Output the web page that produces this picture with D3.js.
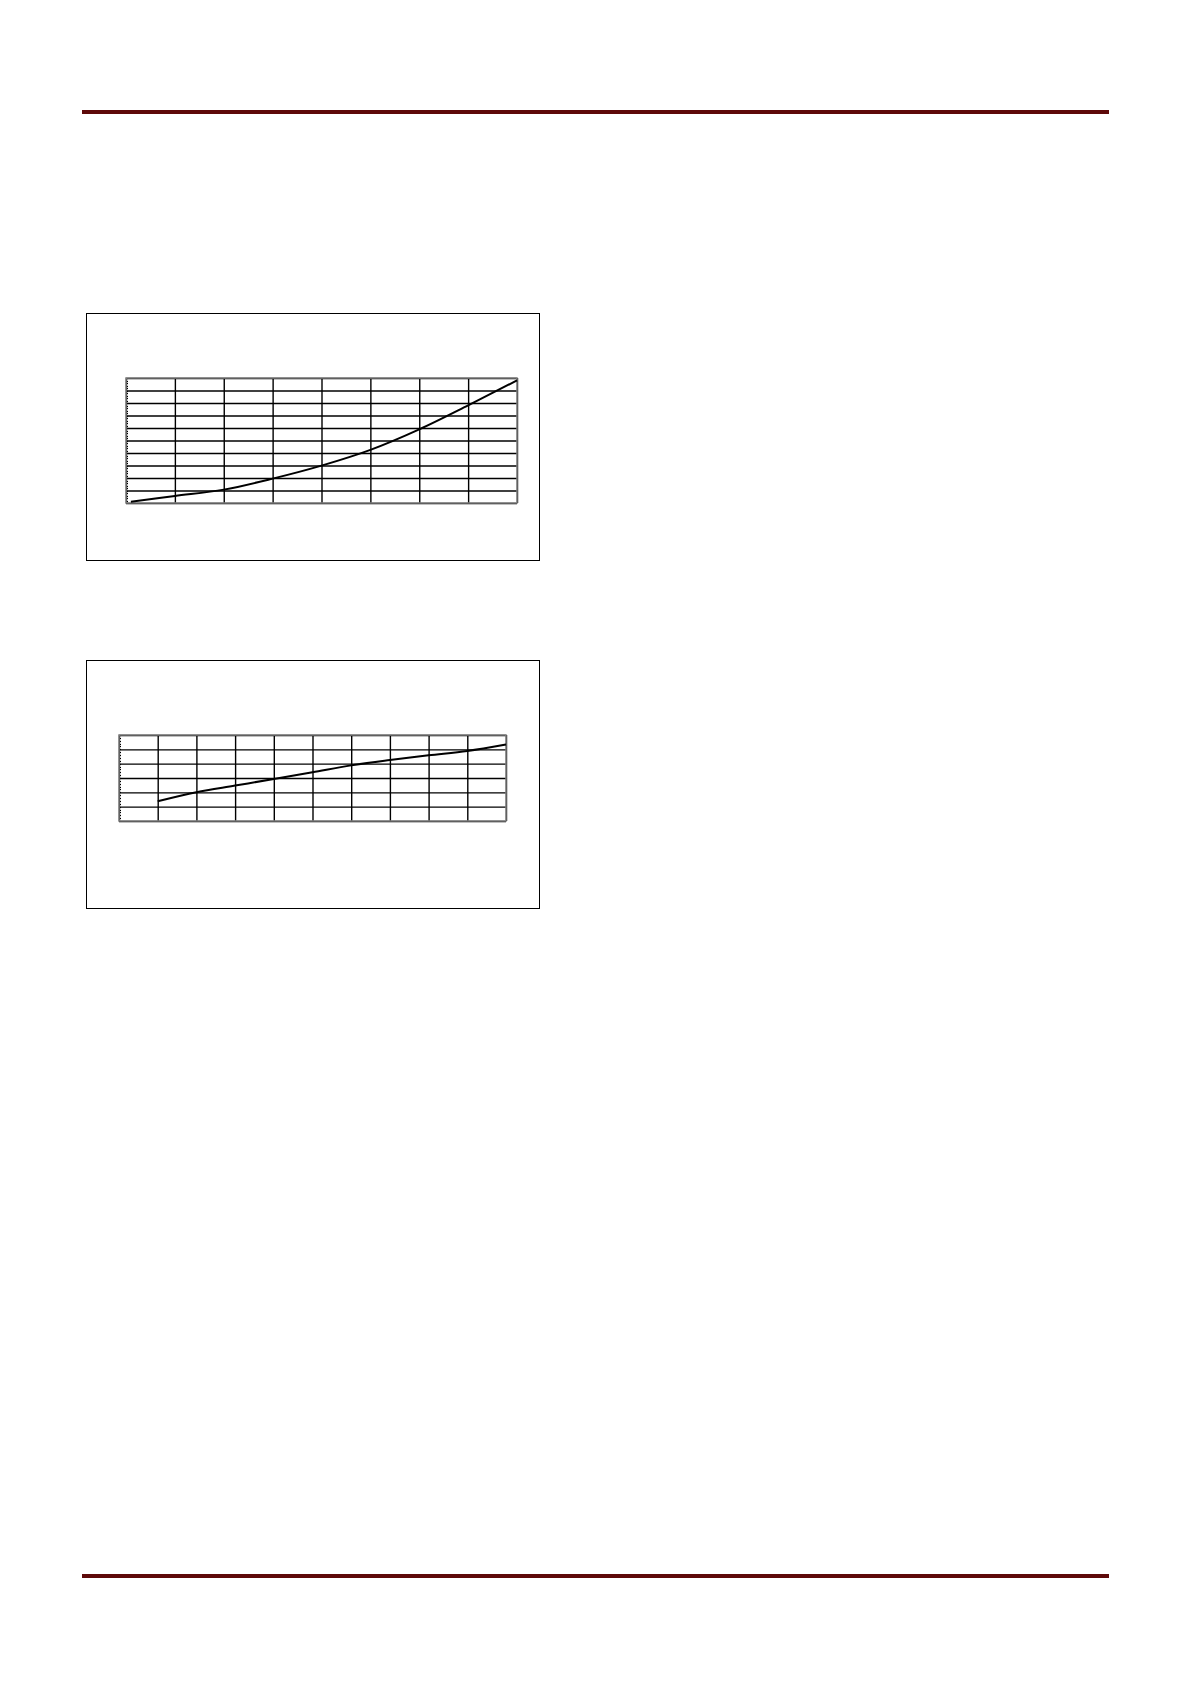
<!DOCTYPE html>
<html>
<head>
<meta charset="utf-8">
<script src="https://cdn.jsdelivr.net/npm/d3@7"></script>
<style>
  body { margin: 0; background: #fff; }
  .grid line { stroke: #000; stroke-width: 1.4; }
  .grid path { display: none; }
  .minor line { stroke: #000; stroke-width: 1; shape-rendering: crispEdges; }
  .minor path { display: none; }
</style>
</head>
<body>
<svg id="page" width="1191" height="1684"></svg>
<script>
// chart 1 : rising curve, 8 x intervals, 10 y intervals
var c1X = [0.1, 1, 2, 3, 4, 5, 6, 7, 8];
var c1Y = [0.1, 0.56, 1.07, 1.95, 2.99, 4.25, 5.89, 7.81, 9.81];
var c1XTicks = [0, 1, 2, 3, 4, 5, 6, 7, 8];
var c1YTicks = [0, 1, 2, 3, 4, 5, 6, 7, 8, 9, 10];

// chart 2 : near linear, 10 x intervals, 6 y intervals
var c2X = [1, 2, 3, 4, 5, 6, 7, 8, 9, 10];
var c2Y = [1.38, 2.01, 2.47, 2.93, 3.40, 3.88, 4.25, 4.58, 4.88, 5.33];
var c2XTicks = [0, 1, 2, 3, 4, 5, 6, 7, 8, 9, 10];
var c2YTicks = [0, 1, 2, 3, 4, 5, 6];

var svg = d3.select("#page");

// page rules
[112, 1576].forEach(function(y){
  svg.append("line")
    .attr("x1", 82).attr("x2", 1109)
    .attr("y1", y).attr("y2", y)
    .attr("stroke", "#5e0909")
    .attr("stroke-width", 4);
});

function drawChart(box, plot, xs, ys, xTicks, yTicks, minorStep){
  // outer frame
  svg.append("rect")
    .attr("x", box.x + 0.5).attr("y", box.y + 0.5)
    .attr("width", box.w).attr("height", box.h)
    .attr("fill", "#fff").attr("stroke", "#000").attr("stroke-width", 1);

  var g = svg.append("g").attr("transform", "translate(" + plot.x + "," + plot.y + ")");

  var x = d3.scaleLinear()
      .domain([xTicks[0], xTicks[xTicks.length - 1]])
      .range([0, plot.w]);
  var y = d3.scaleLinear()
      .domain([yTicks[0], yTicks[yTicks.length - 1]])
      .range([plot.h, 0]);

  // gridlines
  g.append("g").attr("class", "grid")
      .attr("transform", "translate(0," + plot.h + ")")
      .call(d3.axisBottom(x).tickValues(xTicks).tickSize(-plot.h).tickFormat(""));
  g.append("g").attr("class", "grid")
      .call(d3.axisLeft(y).tickValues(yTicks).tickSize(-plot.w).tickFormat(""));

  // minor ticks on the left edge
  g.append("g").attr("class", "minor")
      .call(d3.axisLeft(y).tickValues(d3.range(yTicks[0], yTicks[yTicks.length - 1] + 0.001, minorStep))
        .tickSize(-2).tickFormat(""));

  // plot border
  g.append("rect")
    .attr("x", 0).attr("y", 0)
    .attr("width", plot.w).attr("height", plot.h)
    .attr("fill", "none").attr("stroke", "#808080").attr("stroke-width", 1.5);

  var line = d3.line()
      .x(function(d, i){ return x(xs[i]); })
      .y(function(d){ return y(d); })
      .curve(d3.curveCatmullRom);

  g.append("path")
    .datum(ys)
    .attr("d", line)
    .attr("fill", "none")
    .attr("stroke", "#000")
    .attr("stroke-width", 2);
}

drawChart({x: 86, y: 313, w: 453, h: 247},
          {x: 126, y: 378, w: 391, h: 125},
          c1X, c1Y, c1XTicks, c1YTicks, 0.2);

drawChart({x: 86, y: 660, w: 453, h: 248},
          {x: 119, y: 735, w: 387, h: 86},
          c2X, c2Y, c2XTicks, c2YTicks, 0.2);
</script>
</body>
</html>
